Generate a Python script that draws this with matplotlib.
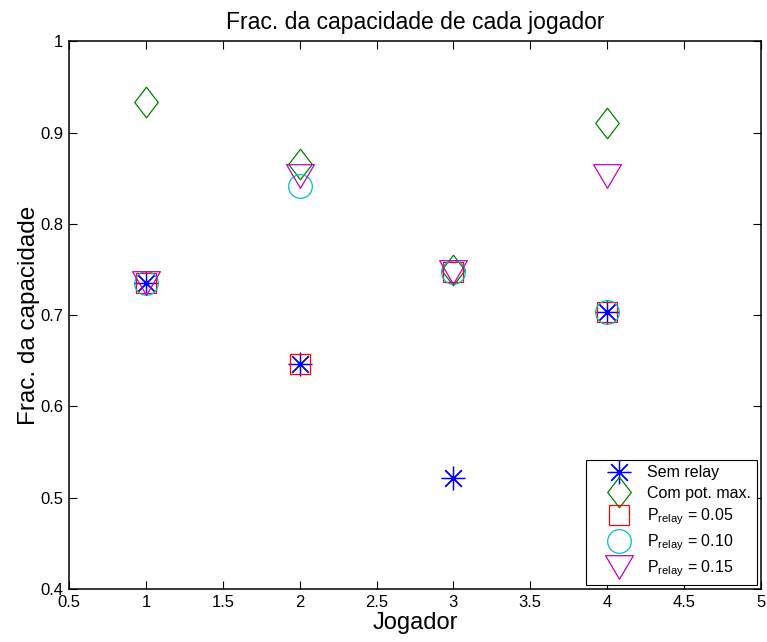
import numpy as np
import matplotlib
matplotlib.use('Agg')
import matplotlib.pyplot as plt
from matplotlib.path import Path

plt.rcParams['font.family'] = ['Liberation Sans', 'DejaVu Sans']
plt.rcParams['mathtext.fontset'] = 'custom'
plt.rcParams['mathtext.rm'] = 'Liberation Sans'
plt.rcParams['mathtext.it'] = 'Liberation Sans'

# Dados
jogadores = [1, 2, 3, 4]
sem_relay = [0.735, 0.646, 0.522, 0.703]
com_pot_max = [0.934, 0.866, 0.749, 0.910]
p_005 = [0.735, 0.646, 0.747, 0.703]
p_010 = [0.735, 0.842, 0.747, 0.703]
p_015 = [0.735, 0.852, 0.747, 0.852]

labels = ['Sem relay', 'Com pot. max.',
          r'P$_{\mathrm{relay}}$ = 0.05',
          r'P$_{\mathrm{relay}}$ = 0.10',
          r'P$_{\mathrm{relay}}$ = 0.15']

# Marcadores estilo MATLAB
asterisco = (8, 2, 0)
losango = Path([(0, 1), (0.77, 0), (0, -1), (-0.77, 0), (0, 1)],
               [Path.MOVETO, Path.LINETO, Path.LINETO, Path.LINETO, Path.CLOSEPOLY])
triangulo = Path([(-1, 0.85), (1, 0.85), (0, -0.85), (-1, 0.85)],
                 [Path.MOVETO, Path.LINETO, Path.LINETO, Path.CLOSEPOLY])

series = [
    (sem_relay, asterisco, '#0000FF', 17),
    (com_pot_max, losango, '#008000', 22),
    (p_005, 's', '#FF0000', 14),
    (p_010, 'o', '#00BFBF', 17),
    (p_015, triangulo, '#BF00BF', 20),
]

fig = plt.figure(figsize=(7.67, 6.42), dpi=100)
ax = fig.add_axes([0.090, 0.0826, 0.902, 0.853])

for (vals, mk, cor, ms), lab in zip(series, labels):
    ax.plot(jogadores, vals, linestyle='none', marker=mk, markersize=ms,
            markerfacecolor='none', markeredgecolor=cor, markeredgewidth=0.9,
            label=lab)

ax.set_xlim(0.5, 5)
ax.set_ylim(0.4, 1)
ax.set_xticks(np.arange(0.5, 5.01, 0.5))
ax.set_xticklabels(['0.5', '1', '1.5', '2', '2.5', '3', '3.5', '4', '4.5', '5'])
ax.set_yticks(np.arange(0.4, 1.01, 0.1))
ax.set_yticklabels(['0.4', '0.5', '0.6', '0.7', '0.8', '0.9', '1'])
ax.tick_params(direction='in', length=6, width=0.8, top=True, right=True,
               labelsize=12, pad=4)
for s in ax.spines.values():
    s.set_linewidth(1.1)

ax.set_title('Frac. da capacidade de cada jogador', fontsize=16.5, pad=9)
ax.set_xlabel('Jogador', fontsize=17, labelpad=2)
ax.set_ylabel('Frac. da capacidade', fontsize=17.5, labelpad=0)

leg = ax.legend(loc='lower right', fontsize=11.5, frameon=True, fancybox=False,
                edgecolor='black', framealpha=1, borderaxespad=0.25,
                handletextpad=0.0, labelspacing=0.35, borderpad=0.35,
                handlelength=3.5)
leg.get_frame().set_linewidth(0.8)

fig.savefig('out.png', dpi=100)
